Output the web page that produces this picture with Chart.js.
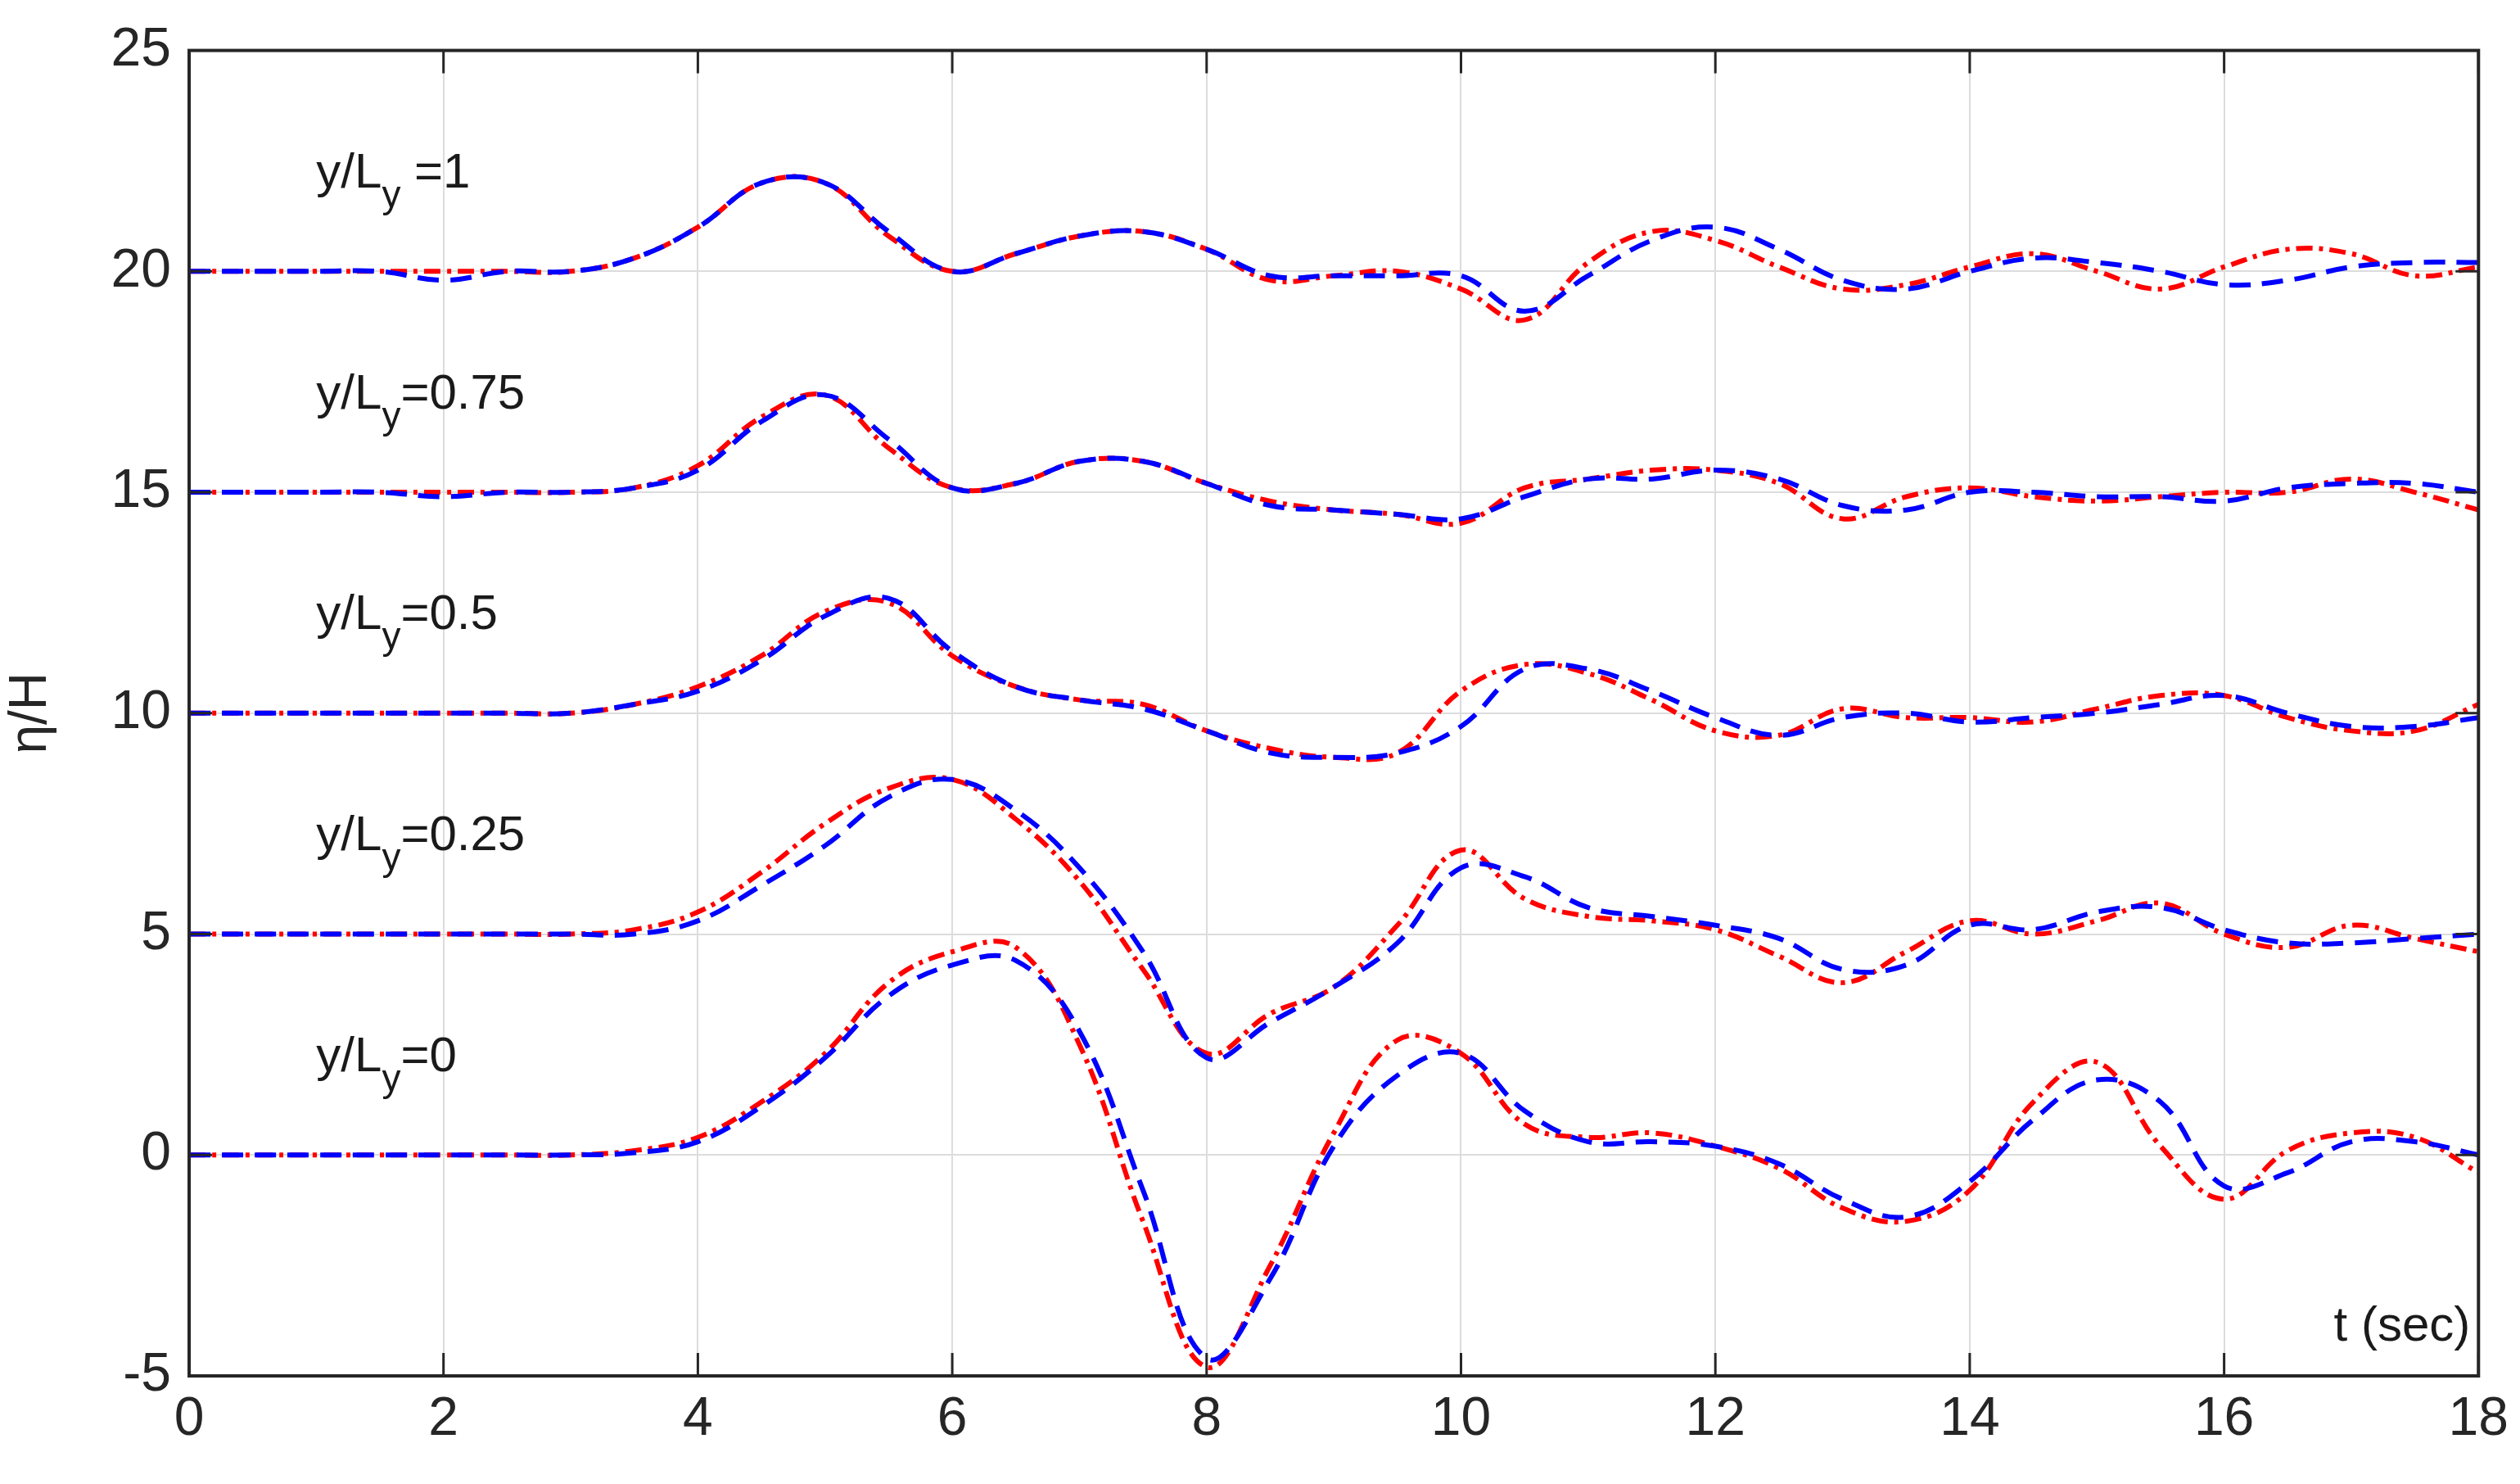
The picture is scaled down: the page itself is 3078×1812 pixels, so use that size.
<!DOCTYPE html>
<html><head><meta charset="utf-8">
<script src="https://cdn.jsdelivr.net/npm/chart.js@4"></script>
<style>html,body{margin:0;padding:0;background:#fff}#w{width:3078px;height:1812px}</style>
</head><body><div id="w"><canvas id="c"></canvas></div>
<script>
const t = [0,0.5,1,1.5,2,2.5,3,3.5,4,4.5,5,5.5,6,6.5,7,7.5,8,8.5,9,9.5,10,10.5,11,11.5,12,12.5,13,13.5,14,14.5,15,15.5,16,16.5,17,17.5,18];
const xTicks = [0,2,4,6,8,10,12,14,16,18];
const yTicks = [-5,0,5,10,15,20,25];
const labels = ["=0","=0.25","=0.5","=0.75"," =1"];
const labelY = [1.9,6.9,11.9,16.9,21.9];

const red0  = [0,0,0,0,0,0,0,0.1,0.4,1.2,2.3,3.9,4.6,4.7,2.5,-1.5,-4.8,-2.5,0.5,2.6,2.3,0.7,0.4,0.5,0.2,-0.3,-1.2,-1.5,-0.8,1.2,2.1,0.2,-1.0,0.1,0.5,0.4,-0.4];
const blue0 = [0,0,0,0,0,0,0,0.05,0.3,1.1,2.2,3.6,4.3,4.4,2.8,-0.8,-4.6,-2.8,0.2,1.8,2.3,1.0,0.3,0.3,0.2,-0.2,-1.0,-1.4,-0.6,0.8,1.7,1.2,-0.7,-0.4,0.3,0.3,0];
const red25  = [5,5,5,5,5,5,5,5.1,5.5,6.4,7.5,8.3,8.5,7.6,6.2,4.2,2.3,3.2,3.8,5.2,6.9,5.8,5.4,5.3,5.1,4.5,3.9,4.6,5.3,5.0,5.3,5.7,5.0,4.7,5.2,4.9,4.6];
const blue25 = [5,5,5,5,5,5,5,5.0,5.3,6.1,7.0,8.1,8.5,7.8,6.5,4.6,2.2,3.0,3.8,4.8,6.5,6.3,5.6,5.4,5.2,4.9,4.2,4.3,5.2,5.1,5.5,5.6,5.1,4.8,4.8,4.9,5.0];
const red50  = [10,10,10,10,10,10,10,10.2,10.6,11.3,12.3,12.5,11.3,10.6,10.3,10.2,9.6,9.2,9.0,9.1,10.5,11.1,10.9,10.3,9.6,9.5,10.1,9.9,9.9,9.8,10.1,10.4,10.4,9.9,9.6,9.6,10.2];
const blue50 = [10,10,10,10,10,10,10,10.2,10.5,11.2,12.2,12.6,11.4,10.6,10.3,10.1,9.6,9.1,9.0,9.1,9.7,11.0,11.0,10.5,9.9,9.5,9.9,10.0,9.8,9.9,10.0,10.2,10.4,10.0,9.7,9.7,9.9];
const red75  = [15,15,15,15,15,15,15,15.1,15.6,16.7,17.2,16.0,15.1,15.2,15.7,15.7,15.2,14.8,14.6,14.5,14.3,15.1,15.3,15.5,15.5,15.2,14.4,14.9,15.1,14.9,14.8,14.9,15.0,15.0,15.3,15.0,14.6];
const blue75 = [15,15,15,15,14.9,15,15,15.1,15.5,16.6,17.2,16.2,15.1,15.2,15.7,15.7,15.2,14.7,14.6,14.5,14.4,14.9,15.3,15.3,15.5,15.3,14.7,14.6,15.0,15.0,14.9,14.9,14.8,15.1,15.2,15.2,15.0];
const red100  = [20,20,20,20,20,20,20,20.3,21.0,22.0,22.0,20.8,20.0,20.4,20.8,20.9,20.5,19.8,19.9,20.0,19.6,18.9,20.2,20.9,20.7,20.1,19.6,19.7,20.1,20.4,20.0,19.6,20.1,20.5,20.4,19.9,20.1];
const blue100 = [20,20,20,20,19.8,20,20,20.3,21.0,22.0,22.0,20.9,20.0,20.4,20.8,20.9,20.5,19.9,19.9,19.9,19.9,19.1,19.9,20.7,21.0,20.5,19.8,19.6,20.0,20.3,20.2,20.0,19.7,19.8,20.1,20.2,20.2];

const reds = [red0,red25,red50,red75,red100];
const blues = [blue0,blue25,blue50,blue75,blue100];
const pts = a => a.map((v,i)=>({x:t[i],y:v}));
const ds = [];
for (let k=0;k<5;k++){
  ds.push({data:pts(blues[k]),borderColor:'#0000ff',borderWidth:6,borderDash:[26,14],pointRadius:0,tension:0.4,fill:false});
  ds.push({data:pts(reds[k]),borderColor:'#ff0000',borderWidth:6,borderDash:[20,8,5,8],pointRadius:0,tension:0.4,fill:false});
}
const FONT = 'Liberation Sans, Arial, sans-serif';
const deco = {
  id:'deco',
  afterDatasetsDraw(ch){
    const {ctx,chartArea:a,scales:{x,y}} = ch;
    ctx.save();
    ctx.strokeStyle='#262626';ctx.lineWidth=4;
    ctx.strokeRect(a.left,a.top,a.right-a.left,a.bottom-a.top);
    ctx.lineWidth=3;
    xTicks.forEach(v=>{const px=x.getPixelForValue(v);ctx.beginPath();ctx.moveTo(px,a.bottom);ctx.lineTo(px,a.bottom-28);ctx.moveTo(px,a.top);ctx.lineTo(px,a.top+28);ctx.stroke();});
    yTicks.forEach(v=>{const py=y.getPixelForValue(v);ctx.beginPath();ctx.moveTo(a.left,py);ctx.lineTo(a.left+28,py);ctx.moveTo(a.right,py);ctx.lineTo(a.right-28,py);ctx.stroke();});
    ctx.fillStyle='#1a1a1a';ctx.textBaseline='alphabetic';
    labels.forEach((s,k)=>{
      let px=x.getPixelForValue(1.0), py=y.getPixelForValue(labelY[k]);
      ctx.font='60px '+FONT;ctx.textAlign='left';
      ctx.fillText('y/L',px,py);px+=ctx.measureText('y/L').width;
      ctx.font='46px '+FONT;ctx.fillText('y',px,py+24);px+=ctx.measureText('y').width;
      ctx.font='60px '+FONT;ctx.fillText(s,px,py);
    });
    ctx.font='60px '+FONT;ctx.textAlign='right';
    ctx.fillText('t (sec)',a.right-10,y.getPixelForValue(-4.2));
    ctx.restore();
  }
};
new Chart(document.getElementById('c'),{
  type:'line',
  data:{datasets:ds},
  options:{
    responsive:true,maintainAspectRatio:false,animation:false,
    layout:{padding:{left:0,right:32,top:41,bottom:0}},
    plugins:{legend:{display:false},tooltip:{enabled:false}},
    scales:{
      x:{type:'linear',min:0,max:18,
        afterBuildTicks:s=>{s.ticks=xTicks.map(v=>({value:v}));},
        afterFit:s=>{s.height=132;},
        grid:{color:'#dcdcdc',lineWidth:2,drawTicks:false},border:{display:false},
        ticks:{color:'#262626',font:{size:66,family:FONT},padding:14}},
      y:{type:'linear',min:-5,max:25,
        afterBuildTicks:s=>{s.ticks=yTicks.map(v=>({value:v}));},
        afterFit:s=>{s.width=231;},
        grid:{color:'#dcdcdc',lineWidth:2,drawTicks:false},border:{display:false},
        title:{display:true,text:'η/H',color:'#262626',font:{size:64,family:FONT},padding:0},
        ticks:{color:'#262626',font:{size:66,family:FONT},padding:22}}
    }
  },
  plugins:[deco]
});
</script></body></html>
